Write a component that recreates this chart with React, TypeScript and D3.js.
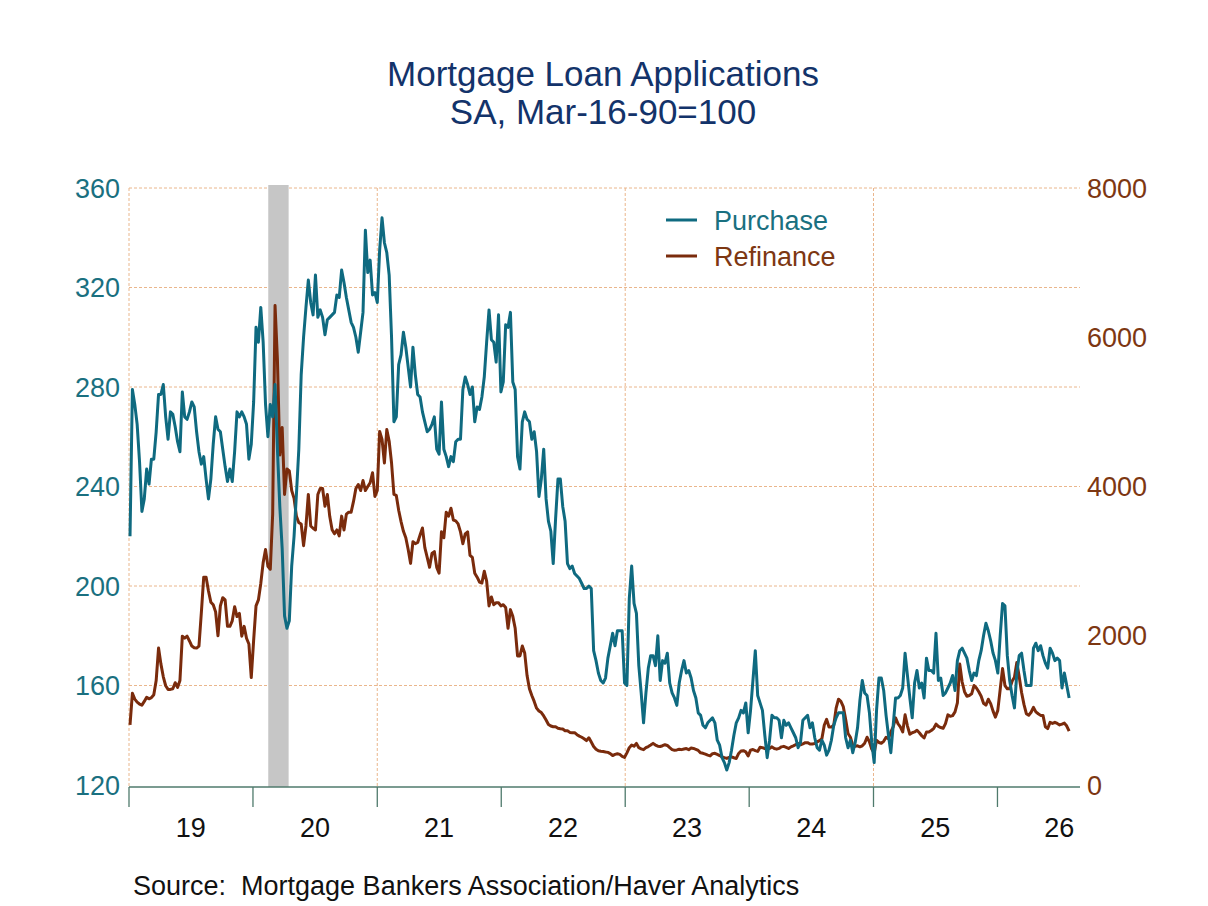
import React from "react";
import * as d3 from "d3";

// ---- Data (weekly, starting week ending Jan 4, 2019) ----
const startDate = Date.UTC(2019, 0, 4);

const purchase2019 = [220,279,273,265,250,230,235,247,241,251,251,262,277,277,281,268,259,270,269,264,258,254,278,268,267,270,274,272,262,254,249,252,243,235,243,257,268,263,262,255,248,242,247,242,254,270,268,270,268,265,251,257];
const purchase2020 = [274,304,298,312,298,273,260,273,268,281,255,232,215,188,183,186,208,220,237,255,285,300,312,323,314,309,325,308,311,308,301,307,308,309,310,317,316,327,322,316,311,306,304,300,294,302,310,343,326,331,317,318];
const purchase2021 = [314,335,348,338,334,325,300,266,268,289,293,302,296,288,280,296,285,277,276,270,266,262,263,265,268,255,253,274,255,252,248,252,250,258,259,259,279,284,281,277,280,266,272,271,276,284,298,311,299,298,290,309,278];
const purchase2022 = [282,305,304,310,282,279,252,247,266,270,267,266,259,262,254,236,243,255,235,226,222,209,227,243,243,232,226,209,207,208,205,204,203,201,199,199,200,199,174,170,165,162,161,163,171,176,181,176,182,182,182,161];
const purchase2023 = [160,195,208,193,189,168,157,145,157,167,172,172,168,180,162,170,169,173,161,157,155,152,161,166,170,165,166,163,158,155,149,148,144,143,145,146,147,145,138,136,131,129,126,129,134,140,145,147,150,149,153,141];
const purchase2024 = [150,162,174,156,153,150,140,131,138,148,147,147,146,139,146,144,145,143,141,139,135,137,146,147,148,143,145,139,135,134,138,136,132,134,138,144,147,149,149,149,139,135,138,133,137,143,154,162,157,156,149,137];
const purchase2025 = [129,150,163,163,158,148,140,133,144,155,155,156,159,173,164,155,147,161,166,159,161,155,171,166,166,165,181,162,163,156,157,159,161,164,158,170,174,175,173,171,166,162,165,164,170,174,180,185,182,178,173,170];
const purchase2026 = [165,180,193,192,172,162,156,151,165,172,173,166,160,160,160,175,177,174,176,172,169,167,175,173,170,171,170,159,165,160,155];

const refinance2019 = [806,1229,1150,1110,1085,1070,1120,1176,1155,1170,1210,1400,1835,1620,1450,1330,1281,1281,1290,1371,1308,1400,1994,1967,1994,1930,1862,1840,1835,1862,2310,2785,2785,2600,2450,2416,2320,2000,2400,2510,2480,2126,2126,2200,2390,2257,2300,1994,2126,1967,1890,1440];
const refinance2020 = [1941,2400,2480,2700,2980,3155,2930,2891,3630,6426,5700,4421,4791,3893,4236,4210,3946,3841,3600,3515,3498,3207,3471,3893,3471,3440,3418,3893,3973,3973,3735,3893,3600,3420,3366,3418,3339,3603,3418,3630,3656,3656,3800,3973,4025,3946,4080,3946,3999,4050,4184,3867];
const refinance2021 = [3946,4738,4632,4315,4764,4606,4315,3893,3880,3682,3530,3400,3313,3155,2970,3260,3234,3250,3350,3445,3181,3049,2917,3102,3128,2917,2838,3392,3313,3656,3603,3709,3551,3540,3500,3392,3234,3366,3392,3076,3049,2838,2785,2720,2706,2865,2733,2400,2520,2416,2442,2442,2400];
const refinance2022 = [2416,2380,2100,2350,2260,2100,1730,1730,1862,1770,1466,1290,1200,1120,1030,991,970,925,870,810,790,780,780,760,754,750,727,727,705,701,701,674,655,640,620,595,632,575,516,480,460,453,448,442,437,421,395,410,418,410,384,370];
const refinance2023 = [430,500,535,520,558,500,485,474,500,515,535,558,535,520,516,526,540,530,500,474,466,470,479,474,482,488,474,495,490,478,463,431,425,413,400,390,420,425,410,395,377,366,356,370,377,365,356,423,455,460,444,390];
const refinance2024 = [467,476,460,450,505,500,489,480,490,511,489,480,490,511,518,505,489,511,525,540,556,538,550,567,567,550,550,556,578,595,620,800,880,778,778,800,1030,1150,1120,1050,880,690,640,530,520,525,511,525,560,640,580,480];
const refinance2025 = [430,600,570,560,585,640,620,711,780,900,822,780,711,940,790,680,700,711,733,700,660,630,711,711,730,756,815,785,770,760,822,940,920,930,980,1100,1620,1380,1250,1190,1200,1222,1333,1300,1250,1190,1095,1070,1150,1090,990,910];
const refinance2026 = [1000,1280,1560,1333,1289,1289,1390,1444,1640,1450,1240,1080,956,935,975,1040,980,955,933,933,780,756,840,825,840,825,805,815,830,790,722];

const leftTicks = [120, 160, 200, 240, 280, 320, 360];
const rightTicks = [0, 2000, 4000, 6000, 8000];
const years = [2019, 2020, 2021, 2022, 2023, 2024, 2025, 2026];
const yearLabels = ["19", "20", "21", "22", "23", "24", "25", "26"];
const gridYears = [2019, 2021, 2023, 2025];
const recession = [Date.UTC(2020, 1, 15), Date.UTC(2020, 3, 15)];

const purchase = [purchase2019, purchase2020, purchase2021, purchase2022, purchase2023, purchase2024, purchase2025, purchase2026].flat();
const refinance = [refinance2019, refinance2020, refinance2021, refinance2022, refinance2023, refinance2024, refinance2025, refinance2026].flat();
const weekDate = (i: number) => new Date(startDate + i * 7 * 86400000);

const FONT = "'Liberation Sans', Arial, Helvetica, sans-serif";
const TEAL = "#0f6a80";
const BROWN = "#7a2b0c";
const TEAL_TXT = "#1a7080";
const BROWN_TXT = "#7d3712";
const GRID = "#eab68c";
const AXIS = "#4f7a6c";

export default function App() {
  const x = d3.scaleUtc().domain([Date.UTC(2019, 0, 1), Date.UTC(2026, 8, 1)]).range([129, 1080]);
  const yL = d3.scaleLinear().domain([120, 360]).range([785, 188]);
  const yR = d3.scaleLinear().domain([0, 8000]).range([785, 188]);

  const linePurchase = d3.line<number>().x((_, i) => x(weekDate(i))).y((d) => yL(d))(purchase) || "";
  const lineRefi = d3.line<number>().x((_, i) => x(weekDate(i))).y((d) => yR(d))(refinance) || "";

  const axisY = 787;

  return (
    <svg width={1208} height={906} style={{ position: "absolute", left: 0, top: 0, background: "#fff" }} fontFamily={FONT}>
      <rect x={0} y={0} width={1208} height={906} fill="#fff" />
      {/* Title */}
      <text x={603} y={86} textAnchor="middle" fontSize={35} fill="#13336a">Mortgage Loan Applications</text>
      <text x={603} y={124} textAnchor="middle" fontSize={35} fill="#13336a">SA, Mar-16-90=100</text>

      {/* Horizontal grid */}
      {leftTicks.filter((t) => t > 120).map((t) => (
        <line key={"h" + t} x1={129} x2={1080} y1={yL(t)} y2={yL(t)} stroke={GRID} strokeWidth={1} strokeDasharray="3,2" />
      ))}
      {/* Vertical grid */}
      {gridYears.map((yr) => (
        <line key={"v" + yr} x1={x(Date.UTC(yr, 0, 1))} x2={x(Date.UTC(yr, 0, 1))} y1={yL(360)} y2={axisY} stroke={GRID} strokeWidth={1} strokeDasharray="3,2" />
      ))}

      {/* Recession shading */}
      <rect x={x(recession[0])} width={x(recession[1]) - x(recession[0])} y={yL(360) - 3} height={axisY - yL(360) + 3} fill="#c6c6c6" />

      {/* Series */}
      <path d={lineRefi} fill="none" stroke={BROWN} strokeWidth={3} strokeLinejoin="round" />
      <path d={linePurchase} fill="none" stroke={TEAL} strokeWidth={3} strokeLinejoin="round" />

      {/* X axis */}
      <line x1={129} x2={1080} y1={axisY} y2={axisY} stroke={AXIS} strokeWidth={1.3} />
      {years.map((yr) => (
        <line key={"t" + yr} x1={x(Date.UTC(yr, 0, 1))} x2={x(Date.UTC(yr, 0, 1))} y1={axisY} y2={axisY + 20} stroke={AXIS} strokeWidth={1.3} />
      ))}
      {years.map((yr, i) => (
        <text key={"yl" + yr} x={x(Date.UTC(yr, 6, 2))} y={837} textAnchor="middle" fontSize={27} fill="#111">{yearLabels[i]}</text>
      ))}

      {/* Left axis labels */}
      {leftTicks.map((t) => (
        <text key={"l" + t} x={120} y={yL(t)} dy="0.36em" textAnchor="end" fontSize={27} fill={TEAL_TXT}>{t}</text>
      ))}
      {/* Right axis labels */}
      {rightTicks.map((t) => (
        <text key={"r" + t} x={1087} y={yR(t)} dy="0.36em" textAnchor="start" fontSize={27} fill={BROWN_TXT}>{t}</text>
      ))}

      {/* Legend */}
      <line x1={666} x2={697} y1={220} y2={220} stroke={TEAL} strokeWidth={3} />
      <text x={714} y={220} dy="0.36em" fontSize={27} fill={TEAL_TXT}>Purchase</text>
      <line x1={666} x2={697} y1={256} y2={256} stroke={BROWN} strokeWidth={3} />
      <text x={714} y={256} dy="0.36em" fontSize={27} fill={BROWN_TXT}>Refinance</text>

      {/* Source */}
      <text x={133} y={895} fontSize={27} fill="#111" xmlSpace="preserve">Source:  Mortgage Bankers Association/Haver Analytics</text>
    </svg>
  );
}
